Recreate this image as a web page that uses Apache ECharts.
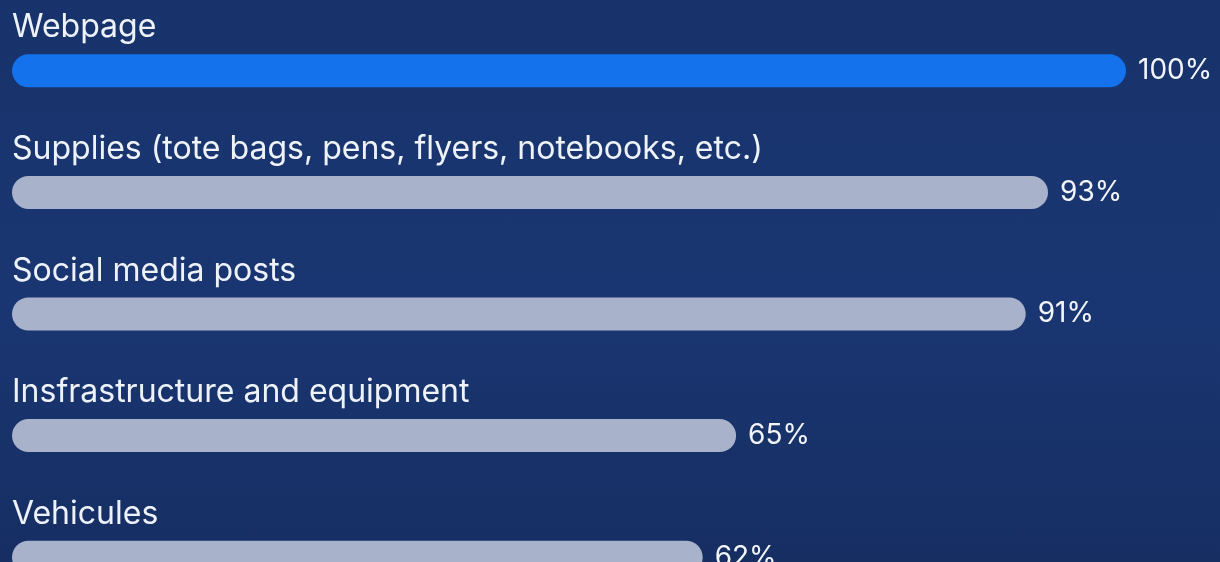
<!DOCTYPE html>
<html>
<head>
<meta charset="utf-8">
<script src="https://cdn.jsdelivr.net/npm/echarts@6/dist/echarts.min.js"></script>
<style>
html,body{margin:0;padding:0;width:1220px;height:562px;overflow:hidden;}
#c{width:1220px;height:562px;background:linear-gradient(180deg,#18336b 0%,#1a3672 55%,#162e62 100%);}
</style>
</head>
<body>
<div id="c"></div>
<script>
const categories = ["Webpage","Supplies (tote bags, pens, flyers, notebooks, etc.)","Social media posts","Insfrastructure and equipment","Vehicules"];
const values = [100, 93, 91, 65, 62];
const highlightIndex = 0;

const chart = echarts.init(document.getElementById('c'), null, {renderer:'canvas'});
const font = 'Inter, "Noto Sans", sans-serif';
chart.setOption({
  backgroundColor: 'transparent',
  animation: false,
  grid: {left: 12, width: 1114, top: 10, height: 608, containLabel: false, outerBoundsMode: 'none'},
  xAxis: {type: 'value', min: 0, max: 100, show: false},
  yAxis: {
    type: 'category', inverse: true, data: categories,
    axisLine: {show: false}, axisTick: {show: false}, splitLine: {show: false},
    axisLabel: {
      inside: true, margin: 0, align: 'left', verticalAlign: 'bottom',
      color: '#eef2fb', fontFamily: font, fontSize: 32, lineHeight: 36,
      padding: [0, 0, 25, 0]
    }
  },
  series: [{
    type: 'bar',
    data: values.map((v, i) => ({value: v, itemStyle: {color: i === highlightIndex ? '#1473ec' : '#a9b2cb'}})),
    barWidth: 33,
    itemStyle: {borderRadius: 17},
    label: {
      show: true, position: 'right', distance: 12,
      formatter: p => p.value + '%',
      color: '#f2f5fc', fontFamily: font, fontSize: 28
    }
  }]
});
</script>
</body>
</html>
